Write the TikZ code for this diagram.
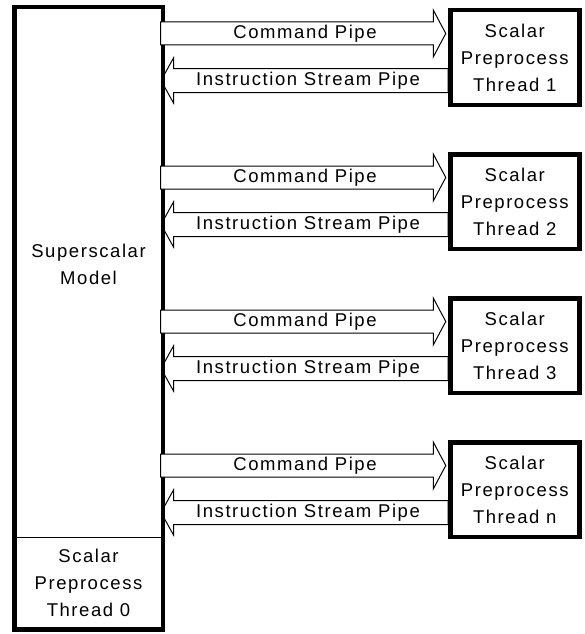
\documentclass[tikz,border=0pt]{standalone}
\usepackage{fontspec}
\setmainfont{Liberation Sans}[LetterSpace=8.5]
\usetikzlibrary{calc}
\pgfdeclarelayer{back}
\pgfdeclarelayer{bg}
\pgfsetlayers{back,bg,main}
\begin{document}
\begin{tikzpicture}[x=1pt,y=-1pt,
  box/.style={draw, line width=4.5pt, fill=white, inner sep=0pt},
  modelbox/.style={box, minimum width=148.5pt, minimum height=622pt},
  threadbox/.style={box, minimum width=129pt, minimum height=94.5pt, txt},
  txt/.style={font=\fontsize{18.5}{27}\selectfont, align=center},
  pipe/.style={draw, line width=1pt, fill=white, line join=miter},
  thinline/.style={line width=1pt}]
\begin{pgfonlayer}{back}
\fill[white] (0,0) rectangle (584,634);
\end{pgfonlayer}
\useasboundingbox (0,0) rectangle (584,634);
% left model box
\node[modelbox] (model) at (88.5,318.25) {};
\draw[thinline] (model.west |- 0,537) -- (model.east |- 0,537);
\node[txt] (smlabel) at (88.5,264) {Superscalar\\Model};
\node[txt] (t0label) at (88.5,583) {Scalar\\Preprocess\\Thread 0};
% thread boxes
\foreach \i/\n in {0/1,1/2,2/3,3/n}{
  \node[threadbox] (t\i) at (514.75,57.5+144*\i) {Scalar\\Preprocess\\Thread \n};
}
% pipes
\foreach \i in {0,...,3}{
  \coordinate (ia\i) at (161,80.5+144*\i);
  \coordinate (ib\i) at (t\i.west |- ia\i);
  \coordinate (ca\i) at (160.7,33.5+144*\i);
  \coordinate (cb\i) at ([xshift=-2.25pt]t\i.west |- ca\i);
  \begin{pgfonlayer}{bg}
  \draw[pipe] (ia\i) -- ($(ia\i)+(12.5,-22.5)$) -- ($(ia\i)+(12.5,-12)$)
    -- ($(ib\i)+(0,-12)$) -- ($(ib\i)+(0,12)$) -- ($(ia\i)+(12.5,12)$)
    -- ($(ia\i)+(12.5,22.5)$) -- cycle;
  \end{pgfonlayer}
  \draw[pipe] ($(ca\i)+(0,-11.5)$) -- ($(cb\i)+(-12.5,-11.5)$) -- ($(cb\i)+(-12.5,-23.5)$)
    -- (cb\i) -- ($(cb\i)+(-12.5,23.5)$) -- ($(cb\i)+(-12.5,11.5)$)
    -- ($(ca\i)+(0,11.5)$) -- cycle;
  \node[txt] (cl\i) at (305,33.5+144*\i) {Command Pipe};
  \node[txt] (il\i) at (308,80.5+144*\i) {Instruction Stream Pipe};
}
\end{tikzpicture}
\end{document}
